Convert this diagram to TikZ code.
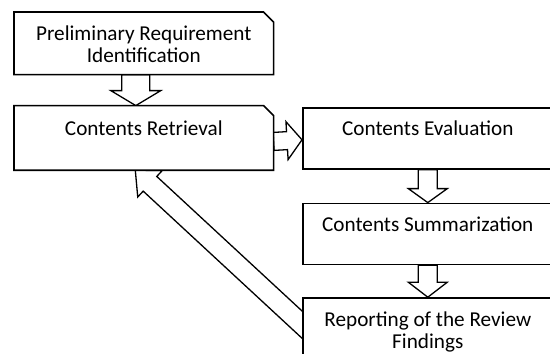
\documentclass[tikz,border=0pt]{standalone}
\usepackage{fontspec}
\setmainfont{Carlito}
\usetikzlibrary{positioning, calc, backgrounds}
\tikzset{
  stage/.style={draw, fill=white, line width=1.6pt, minimum width=250pt, minimum height=61pt,
    inner sep=0pt, text height=28pt, text depth=33pt, align=center,
    font=\fontsize{21.2}{22}\selectfont},
  twoline/.style={text height=50pt, text depth=11pt},
  cutstage/.style={stage, draw=none, fill=none, minimum width=258pt, append after command={
    \pgfextra{\draw[line width=1.6pt, fill=white] (\tikzlastnode.north west)
      -- ([xshift=-10pt]\tikzlastnode.north east) -- ([yshift=-10pt]\tikzlastnode.north east)
      -- (\tikzlastnode.south east) -- (\tikzlastnode.south west) -- cycle;}}},
  hollow/.style n args={3}{fill=white, line width=1.3pt, to path={
    ($(\tikztostart)!#1!90:(\tikztotarget)$)
    -- ($(\tikztotarget)!#3!(\tikztostart)!#1!-90:(\tikztostart)$)
    -- ($(\tikztotarget)!#3!(\tikztostart)!#2!-90:(\tikztostart)$)
    -- (\tikztotarget)
    -- ($(\tikztotarget)!#3!(\tikztostart)!#2!90:(\tikztostart)$)
    -- ($(\tikztotarget)!#3!(\tikztostart)!#1!90:(\tikztostart)$)
    -- ($(\tikztostart)!#1!-90:(\tikztotarget)$)
    -- cycle}},
  x=1pt, y=1pt
}
\begin{document}
\begin{tikzpicture}
    \useasboundingbox (0,0) rectangle (550,-354);
    \clip (0,0) rectangle (550,-354);
    \node[cutstage, twoline, anchor=north west] (prelim) at (14,-12) {Preliminary Requirement\\Identification};
    \node[cutstage, below=31pt of prelim, minimum height=63pt] (retrieval) {Contents Retrieval};
    \node[stage, anchor=north west] (evaluation) at (302,-107) {Contents Evaluation};
    \node[stage, below=33pt of evaluation] (summary) {Contents Summarization};
    \node[stage, twoline, below=32pt of summary] (report) {Reporting of the Review\\Findings};
    % feedback arrow runs under both boxes
    \coordinate (backtip) at ($(retrieval.south)+(-8.5,0)$);
    \coordinate (backtail) at ($(report.west)+(28,-22)$);
    \begin{scope}[on background layer]
      \draw[hollow={14pt}{25pt}{15pt}] ($(prelim.south)+(-8,0)$) to ($(retrieval.north)+(-8,0)$);
      \draw[hollow={9pt}{19pt}{15pt}] ($(retrieval.east)+(0,-3.5)$) to ($(evaluation.west)+(0,-1.5)$);
      \draw[hollow={9.5pt}{19.5pt}{14pt}] (evaluation.south) to (summary.north);
      \draw[hollow={9.5pt}{19.5pt}{15pt}] (summary.south) to (report.north);
      \draw[hollow={10pt}{18pt}{20pt}] (backtail) to (backtip);
    \end{scope}
\end{tikzpicture}
\end{document}
